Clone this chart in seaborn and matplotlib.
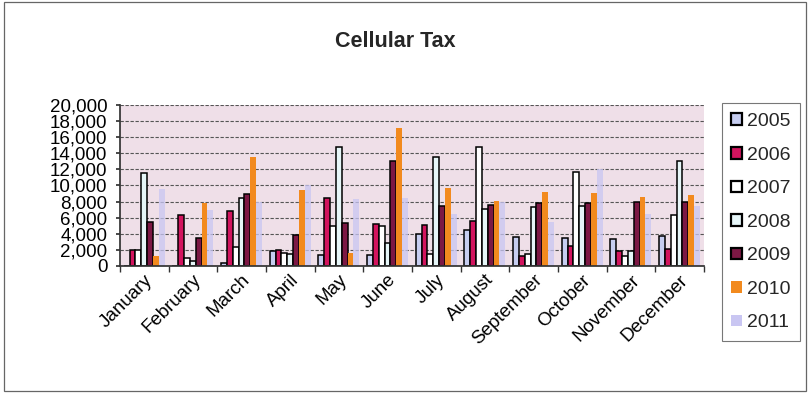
import numpy as np
import pandas as pd
import matplotlib
matplotlib.use("Agg")
import matplotlib.pyplot as plt
import seaborn as sns
from matplotlib.ticker import FuncFormatter, FixedLocator
from matplotlib.patches import Rectangle

months = ["January", "February", "March", "April", "May", "June", "July",
          "August", "September", "October", "November", "December"]
years = ["2005", "2006", "2007", "2008", "2009", "2010", "2011"]

v2005 = [0, 0, 400, 1900, 1300, 1300, 4000, 4500, 3600, 3500, 3300, 3700]
v2006 = [2000, 6300, 6800, 2000, 8500, 5200, 5100, 5600, 1200, 2500, 1800, 2100]
v2007 = [2000, 950, 2300, 1600, 5000, 5000, 1500, 14800, 1500, 11700, 1200, 6300]
v2008 = [11600, 550, 8500, 1500, 14800, 2900, 13500, 7100, 7300, 7400, 1800, 13000]
v2009 = [5400, 3500, 8900, 3850, 5300, 13000, 7500, 7600, 7800, 7800, 8000, 7900]
v2010 = [1200, 7800, 13600, 9400, 1600, 17100, 9700, 8100, 9200, 9000, 8600, 8800]
v2011 = [9500, 7000, 8000, 10000, 8300, 8500, 6500, 8000, 5500, 12000, 6500, 7500]

series = [v2005, v2006, v2007, v2008, v2009, v2010, v2011]
rows = []
for y, vals in zip(years, series):
    for m, v in zip(months, vals):
        rows.append({"Month": m, "Year": y, "Tax": v})
df = pd.DataFrame(rows)

colors = {"2005": "#c6cdf0", "2006": "#d2145e", "2007": "#ffffff",
          "2008": "#e6f6f8", "2009": "#7c1844", "2010": "#f28a1e",
          "2011": "#c9c6f2"}
outlined = {"2005", "2006", "2007", "2008", "2009"}

sns.set_theme(style="white")
plt.rcParams["font.family"] = ["Liberation Sans", "DejaVu Sans"]

fig = plt.figure(figsize=(8.1, 3.95), dpi=100)
ax = fig.add_axes([0.148, 0.327, 0.721, 0.407])
ax.set_facecolor("#efdfe8")

sns.barplot(data=df, x="Month", y="Tax", hue="Year", hue_order=years,
            order=months, palette=colors, width=0.84, ax=ax,
            saturation=1, legend=True)

for cont, yr in zip(ax.containers, years):
    for p in cont.patches:
        if yr in outlined:
            p.set_edgecolor("black")
            p.set_linewidth(1.1)
        else:
            p.set_edgecolor("none")
        if yr == "2011":
            p.set_alpha(0.75)

ax.set_ylim(0, 20000)
ax.set_xlim(-0.5, 11.5)
ax.yaxis.set_major_locator(FixedLocator(np.arange(0, 20001, 2000)))
ax.yaxis.set_major_formatter(FuncFormatter(lambda v, p: f"{int(v):,}"))
ax.grid(axis="y", color="#555555", linestyle=(0, (3, 1.5)), linewidth=0.8)
ax.set_axisbelow(True)
ax.set_xlabel("")
ax.set_ylabel("")

for s in ["top", "right"]:
    ax.spines[s].set_visible(False)
ax.spines["left"].set_color("#333333")
ax.spines["bottom"].set_color("#333333")

ax.tick_params(axis="y", labelsize=13.5, pad=6, length=3, left=True, color="#333333")
ax.tick_params(axis="x", which="major", labelsize=13.5, length=0, pad=4)
ax.set_xticks(np.arange(-0.5, 12, 1), minor=True)
ax.tick_params(axis="x", which="minor", length=4, bottom=True, color="#333333")
for lab in ax.get_yticklabels():
    lab.set_color("black")
plt.setp(ax.get_xticklabels(), rotation=45, ha="right", rotation_mode="anchor",
         color="black")

handles, labels = ax.get_legend_handles_labels()
ax.get_legend().remove()
for h, yr in zip(handles, labels):
    if yr in outlined:
        h.set_edgecolor("black")
        h.set_linewidth(1.6)
    else:
        h.set_edgecolor("none")
leg = fig.legend(handles, labels, loc="upper left", bbox_to_anchor=(0.891, 0.738),
                 frameon=True, fontsize=14, handlelength=0.55, handleheight=0.55,
                 labelspacing=0.85, borderpad=0.5, handletextpad=0.25,
                 borderaxespad=0.0, fancybox=False, edgecolor="#555555")
leg.get_frame().set_linewidth(0.8)

fig.text(0.488, 0.895, "Cellular Tax", ha="center", va="center",
         fontsize=15.5, fontweight="bold")

fig.patches.append(Rectangle((0.005, 0.01), 0.99, 0.985, transform=fig.transFigure,
                             fill=False, edgecolor="#666666", linewidth=0.9))

fig.savefig("out.png", dpi=100)
